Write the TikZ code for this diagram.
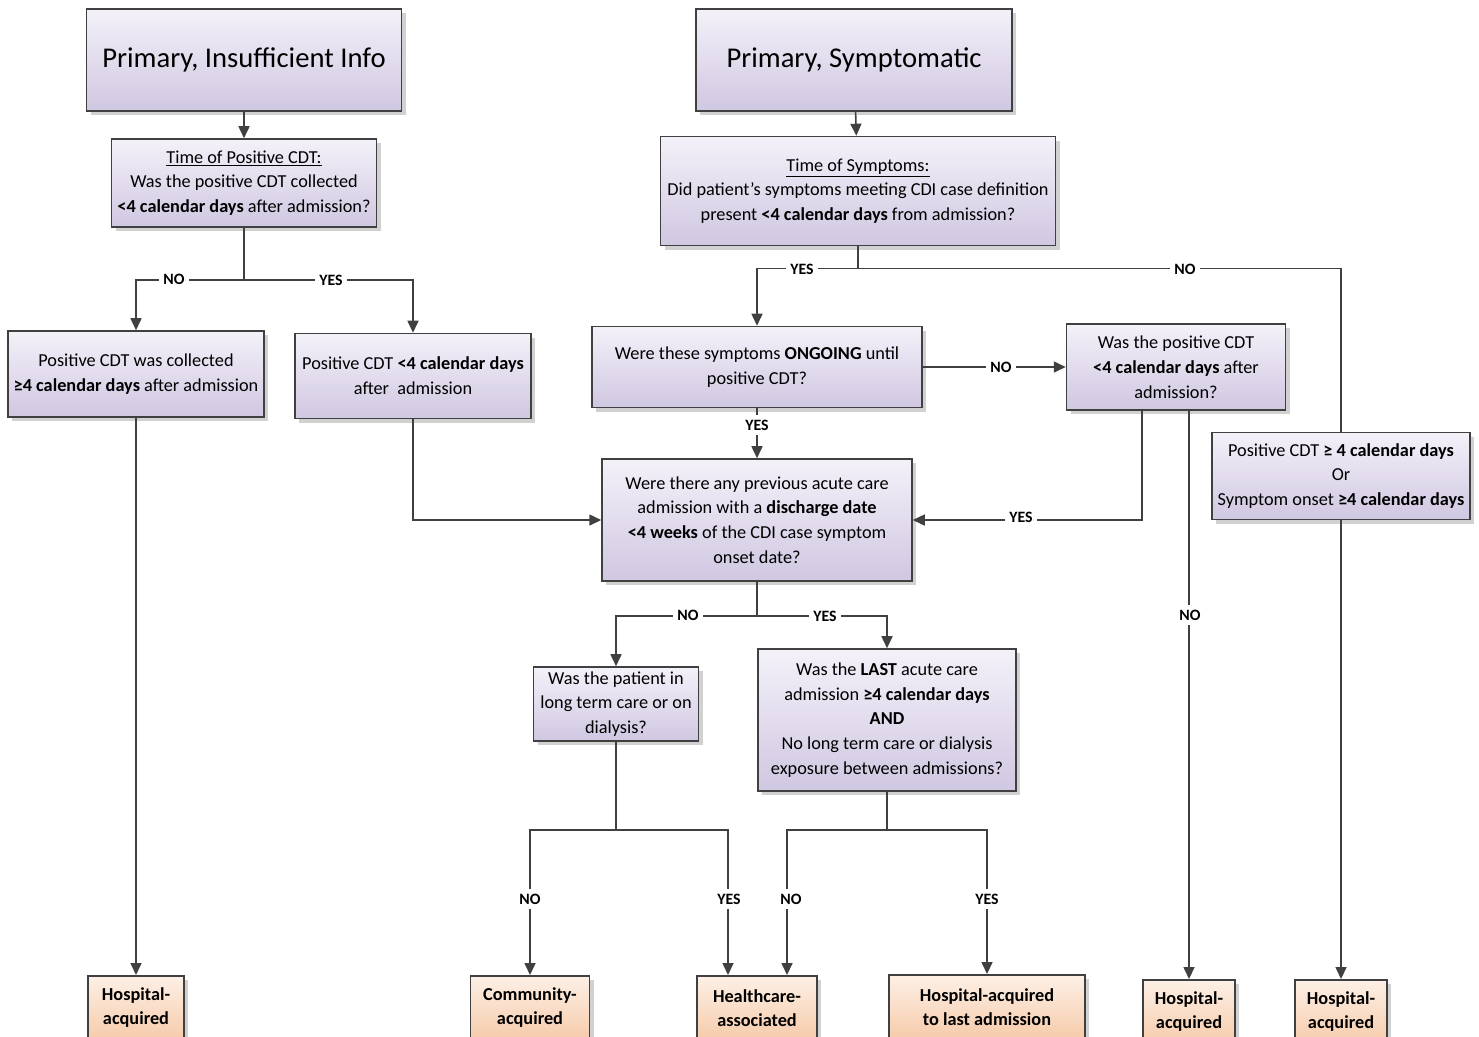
\documentclass[tikz,border=0pt]{standalone}
\usepackage{fontspec}
\setmainfont{Carlito}
\usetikzlibrary{arrows.meta,shadows,calc}

\definecolor{lineGray}{HTML}{404040}
\definecolor{lilacTop}{HTML}{F4F1F9}
\definecolor{lilacBot}{HTML}{D0C7E1}
\definecolor{peachTop}{HTML}{FDF0E6}
\definecolor{peachBot}{HTML}{F6CBAA}

\begin{document}
\begin{tikzpicture}[
    x=0.02cm,
    y=-0.02cm,
    qbox/.style={
        rectangle,
        draw=lineGray,
        line width=0.9pt,
        inner sep=1pt,
        align=center,
        top color=lilacTop,
        bottom color=lilacBot,
        drop shadow={shadow xshift=2.5pt,shadow yshift=-2.5pt,fill=black!40,opacity=0.45},
        font=\fontsize{10.4}{14.1}\selectfont,
    },
    titlebox/.style={
        qbox,
        font=\fontsize{16.3}{19}\selectfont,
    },
    outcome/.style={
        qbox,
        top color=peachTop,
        bottom color=peachBot,
        minimum height=1.28cm,
        font=\bfseries\fontsize{10.4}{13.8}\selectfont,
    },
    ln/.style={
        draw=lineGray,
        line width=0.9pt,
    },
    arr/.style={
        ln,
        -{Triangle[length=0.24cm,width=0.22cm]},
    },
    lbl/.style={
        fill=white,
        inner sep=2.5pt,
        font=\bfseries\fontsize{9}{10}\selectfont,
    },
]
    \useasboundingbox (0,0) rectangle (1479,1036);
    \clip (0,0) rectangle (1479,1036);

    % top row
    \node[titlebox,minimum width=6.3cm,minimum height=2.04cm] (A) at (244,60) {Primary, Insufficient Info};
    \node[titlebox,minimum width=6.32cm,minimum height=2.04cm] (B) at (854,60) {Primary, Symptomatic};

    % questions
    \node[qbox,minimum width=5.3cm,minimum height=1.76cm] (C) at (244,183)
        {\underline{Time of Positive CDT:}\\Was the positive CDT collected\\\textbf{<4 calendar days} after admission?};
    \node[qbox,minimum width=7.9cm,minimum height=2.18cm] (D) at (858,191)
        {\underline{Time of Symptoms:}\\Did patient’s symptoms meeting CDI case definition\\present \textbf{<4 calendar days} from admission?};
    \node[qbox,minimum width=5.12cm,minimum height=1.72cm] (E) at (136,374)
        {Positive CDT was collected\\\textbf{≥4 calendar days} after admission};
    \node[qbox,minimum width=4.72cm,minimum height=1.7cm] (F) at (413,376)
        {Positive CDT \textbf{<4 calendar days}\\after~~admission};
    \node[qbox,minimum width=6.6cm,minimum height=1.62cm] (G) at (757,367)
        {Were these symptoms \textbf{ONGOING} until\\positive CDT?};
    \node[qbox,minimum width=4.38cm,minimum height=1.72cm] (H) at (1176,367)
        {Was the positive CDT\\\textbf{<4 calendar days} after\\admission?};
    \node[qbox,minimum width=5.16cm,minimum height=1.74cm] (I) at (1341,476)
        {Positive CDT \textbf{≥ 4 calendar days}\\Or\\Symptom onset \textbf{≥4 calendar days}};
    \node[qbox,minimum width=6.2cm,minimum height=2.44cm] (J) at (757,520)
        {Were there any previous acute care\\admission with a \textbf{discharge date}\\\textbf{<4 weeks} of the CDI case symptom\\onset date?};
    \node[qbox,minimum width=3.3cm,minimum height=1.48cm] (K) at (616,704)
        {Was the patient in\\long term care or on\\dialysis?};
    \node[qbox,minimum width=5.16cm,minimum height=2.84cm] (L) at (887,720)
        {Was the \textbf{LAST} acute care\\admission \textbf{≥4 calendar days}\\\textbf{AND}\\No long term care or dialysis\\exposure between admissions?};

    % outcomes
    \foreach \nm/\x/\y/\w/\txt in {
        HA1/136/975/96/{Hospital-\\acquired},
        CA/530/975/119/{Community-\\acquired},
        HC/757/975/120/{Healthcare-\\associated},
        HL/987/974/196/{Hospital-acquired\\to last admission},
        HA2/1189/979/92/{Hospital-\\acquired},
        HA3/1341/979/92/{Hospital-\\acquired}} {
        \node[outcome,minimum width=\w*0.02cm,anchor=north] (\nm) at (\x,\y) {\txt};
    }

    % left branch
    \draw[arr] (A) -- (C);
    \coordinate (cj) at ($(C.south)+(0,52)$);
    \draw[ln] (C.south) -- (cj);
    \draw[arr] (cj) -| (E.north);
    \draw[arr] (cj) -| (F.north);
    \draw[arr] (E.south) -- (HA1.north);
    \draw[arr] (F.south) |- (J.west);
    \node[lbl] at (174,279) {NO};
    \node[lbl] at (331,280) {YES};

    % right branch
    \draw[arr] (B) -- (D);
    \coordinate (dj) at ($(D.south)+(0,22)$);
    \draw[ln] (D.south) -- (dj);
    \draw[arr] (dj) -| (G.north);
    \draw[ln] (dj) -| (I.north);
    \draw[arr] (I.south) -- (HA3.north);
    \draw[arr] (G) -- (H);
    \draw[arr] (G) -- (J);
    \draw[arr] ($(H.south)+(-34,0)$) |- (J.east);
    \draw[arr] (H.south -| HA2.north) -- (HA2.north);
    \node[lbl] at (802,269) {YES};
    \node[lbl] at (1185,269) {NO};
    \node[lbl] at (1001,367) {NO};
    \node[lbl] at (757,425) {YES};
    \node[lbl] at (1021,517) {YES};
    \node[lbl] at (1190,615) {NO};

    % lower part
    \coordinate (jj) at ($(J.south)+(0,34)$);
    \draw[ln] (J.south) -- (jj);
    \draw[arr] (jj) -| (K.north);
    \draw[arr] (jj) -| (L.north);
    \node[lbl] at (688,615) {NO};
    \node[lbl] at (825,616) {YES};

    \coordinate (kj) at ($(K.south)+(0,88)$);
    \draw[ln] (K.south) -- (kj);
    \draw[arr] (kj) -| (CA.north);
    \draw[arr] (kj) -| ($(HC.north)+(-29,0)$);
    \coordinate (lj) at ($(L.south)+(0,38)$);
    \draw[ln] (L.south) -- (lj);
    \draw[arr] (lj) -| ($(HC.north)+(30,0)$);
    \draw[arr] (lj) -| (HL.north);
    \node[lbl] at (530,899) {NO};
    \node[lbl] at (729,899) {YES};
    \node[lbl] at (791,899) {NO};
    \node[lbl] at (987,899) {YES};
\end{tikzpicture}
\end{document}
